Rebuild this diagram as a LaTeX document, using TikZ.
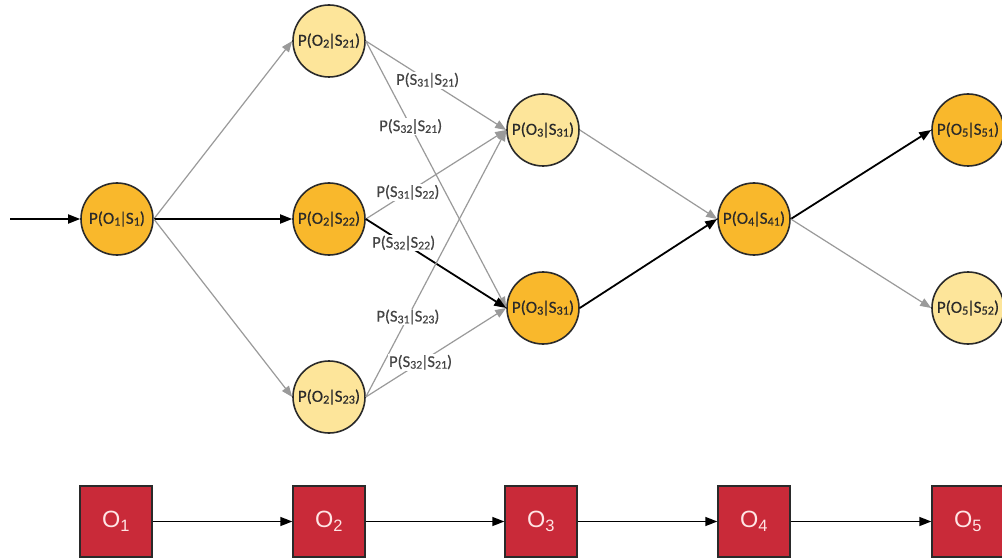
\documentclass[tikz,border=0pt]{standalone}
\usepackage{fontspec}
\setmainfont{Carlito}
\newfontfamily\statefont[FakeBold=0.35]{Carlito}
\newfontfamily\boxfont{Liberation Sans}
\usetikzlibrary{arrows.meta}

\definecolor{stateDark}{HTML}{F9B82C}
\definecolor{stateLight}{HTML}{FDE59A}
\definecolor{obsRed}{HTML}{C92A39}
\definecolor{edgeGrey}{HTML}{9A9A9A}
\definecolor{inkDark}{HTML}{2A2A2A}
\definecolor{labelGrey}{HTML}{444444}

\tikzset{
  state/.style={circle, draw=inkDark, line width=1.6pt, minimum size=72pt,
    inner sep=0pt, text=inkDark, font=\statefont\fontsize{17}{19}\selectfont},
  hot/.style={state, fill=stateDark},
  cold/.style={state, fill=stateLight},
  obs/.style={rectangle, draw=inkDark, line width=1.4pt, fill=obsRed,
    minimum width=72pt, minimum height=71pt, inner sep=0pt,
    text=white!90!red, font=\boxfont\fontsize{23.5}{25}\selectfont},
  weak/.style={draw=edgeGrey, line width=1.2pt,
    -{Triangle[length=11pt,width=8.5pt]}},
  strong/.style={draw=black, line width=1.8pt,
    -{Triangle[length=12pt,width=9pt]}},
  chain/.style={draw=black, line width=1.5pt,
    -{Triangle[length=12pt,width=9pt]}},
  plabel/.style={fill=white, inner sep=1pt, text=labelGrey,
    font=\statefont\fontsize{16.5}{18}\selectfont},
}

% conditional probability with a tight bar
\newcommand{\pr}[2]{P(#1\kern-1.2pt|\kern-1.2pt#2)}
% subscript scaled relative to the running font
\newcommand{\sub}[2]{#1\raisebox{-0.22ex}{\scalebox{0.72}{#2}}}

\begin{document}
\begin{tikzpicture}[x=1pt,y=-1pt]
  \fill[white] (0,0) rectangle (1002,559);
  \useasboundingbox (0,0) rectangle (1002,559);

  % hidden states, one column per time step
  \node[hot]  (s1)  at (117,219) {\pr{\sub{O}{1}}{\sub{S}{1}}};
  \node[cold] (s21) at (329,41)  {\pr{\sub{O}{2}}{\sub{S}{21}}};
  \node[hot]  (s22) at (329,219) {\pr{\sub{O}{2}}{\sub{S}{22}}};
  \node[cold] (s23) at (329,397) {\pr{\sub{O}{2}}{\sub{S}{23}}};
  \node[cold] (s31) at (543,130) {\pr{\sub{O}{3}}{\sub{S}{31}}};
  \node[hot]  (s32) at (543,308) {\pr{\sub{O}{3}}{\sub{S}{31}}};
  \node[hot]  (s41) at (754,219) {\pr{\sub{O}{4}}{\sub{S}{41}}};
  \node[hot]  (s51) at (968,130) {\pr{\sub{O}{5}}{\sub{S}{51}}};
  \node[cold] (s52) at (968,308) {\pr{\sub{O}{5}}{\sub{S}{52}}};

  % observation sequence
  \node[obs] (o1) at (116,521.5) {O\textsubscript{1}};
  \node[obs] (o2) at (329,521.5) {O\textsubscript{2}};
  \node[obs] (o3) at (541,521.5) {O\textsubscript{3}};
  \node[obs] (o4) at (754,521.5) {O\textsubscript{4}};
  \node[obs] (o5) at (968,521.5) {O\textsubscript{5}};

  \coordinate (start) at (10,219);

  % transitions
  \draw[strong] (start) -- (s1.west);
  \draw[weak]   (s1.east) -- (s21.west);
  \draw[strong] (s1.east) -- (s22.west);
  \draw[weak]   (s1.east) -- (s23.west);

  \draw[weak] (s21.east) -- node[plabel, pos=0.44] {\pr{\sub{S}{31}}{\sub{S}{21}}} (s31.west);
  \draw[weak] (s21.east) -- node[plabel, pos=0.32] {\pr{\sub{S}{32}}{\sub{S}{21}}} (s32.west);
  \draw[weak] (s22.east) -- node[plabel, pos=0.30] {\pr{\sub{S}{31}}{\sub{S}{22}}} (s31.west);
  \draw[strong] (s22.east) -- node[plabel, pos=0.27] {\pr{\sub{S}{32}}{\sub{S}{22}}} (s32.west);
  \draw[weak] (s23.east) -- node[plabel, pos=0.30] {\pr{\sub{S}{31}}{\sub{S}{23}}} (s31.west);
  \draw[weak] (s23.east) -- node[plabel, pos=0.39] {\pr{\sub{S}{32}}{\sub{S}{21}}} (s32.west);

  \draw[weak]   (s31.east) -- (s41.west);
  \draw[strong] (s32.east) -- (s41.west);
  \draw[strong] (s41.east) -- (s51.west);
  \draw[weak]   (s41.east) -- (s52.west);

  % observation chain
  \draw[chain] (o1) -- (o2);
  \draw[chain] (o2) -- (o3);
  \draw[chain] (o3) -- (o4);
  \draw[chain] (o4) -- (o5);
\end{tikzpicture}
\end{document}
